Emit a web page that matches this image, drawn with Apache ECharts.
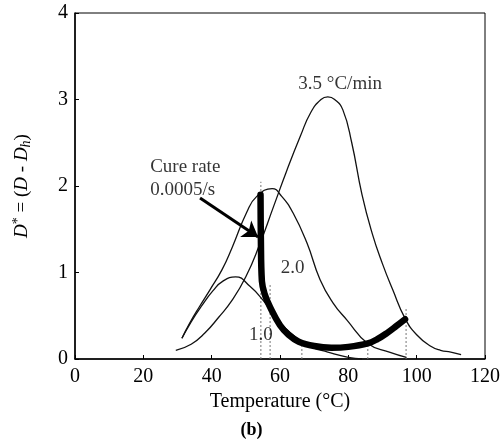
<!DOCTYPE html>
<html><head><meta charset="utf-8">
<script src="https://cdn.jsdelivr.net/npm/echarts@6/dist/echarts.min.js"></script>
<style>html,body{margin:0;padding:0;background:#fff}#c{width:503px;height:441px}</style>
</head><body><div id="c"></div>
<script>
// Heating rate curves (Temperature °C, D*)
const curve10 = [[31.3,0.24],[34,0.43],[37,0.61],[40.4,0.79],[43.3,0.9],[47,0.95],[51.2,0.84],[55,0.68],[58,0.52],[61,0.38],[65,0.24],[69,0.14],[74,0.08],[80,0.02],[84,0.0]];
const curve20 = [[31.3,0.24],[33.5,0.41],[36.5,0.61],[39.5,0.8],[43,1.03],[46,1.29],[50.3,1.7],[53.2,1.88],[57.7,1.97],[60.5,1.88],[63.8,1.69],[67.9,1.34],[71.7,0.92],[75.5,0.65],[79.6,0.45],[85.7,0.18],[92,0.08],[97,0.02]];
const curve35 = [[29.5,0.1],[34,0.17],[38,0.3],[42,0.48],[46,0.68],[50,0.95],[54,1.32],[58,1.75],[62,2.18],[66,2.58],[69,2.85],[72,3.0],[74,3.03],[76,3.0],[78.4,2.88],[81,2.5],[84,1.9],[87,1.45],[90,1.1],[93,0.8],[96.6,0.47],[100,0.28],[104,0.15],[107,0.1],[110,0.08],[113,0.05]];
// Constant cure rate path 0.0005/s
const cureRate = [[54.3,1.9],[54.4,1.4],[54.7,0.9],[55.6,0.74],[57.1,0.6],[60,0.39],[62.5,0.28],[65.5,0.2],[70,0.15],[75,0.13],[80,0.14],[85.7,0.18],[88.5,0.23],[91.3,0.3],[94,0.38],[96.6,0.46]];
// Drop lines
const dropX = [54.4, 57.1, 66.4, 85.7, 96.9];
const dropTop = [2.05, 0.88, 0.2, 0.19, 0.6];
// Annotations
const labelTexts = ['3.5 °C/min', '2.0', '1.0'];
const labelPos = [[77.6,3.18],[63.7,1.05],[54.4,0.28]];
const cureTexts = ['Cure rate', '0.0005/s'];
const curePos = [[22.0,2.22],[22.0,1.95]];
const arrowFrom = [36.6,1.86];
const arrowTo = [53.6,1.41];
const xTicks = [0,20,40,60,80,100,120];
const yTicks = [0,1,2,3,4];

const FONT = 'Liberation Serif';
const chart = echarts.init(document.getElementById('c'), null, {renderer:'canvas'});
const thin = (d) => ({type:'line', data:d, showSymbol:false, smooth:0.5, lineStyle:{color:'#111', width:1.3}, z:3, animation:false});
const series = [thin(curve10), thin(curve20), thin(curve35),
  {type:'line', data:cureRate, showSymbol:false, smooth:0.4, lineStyle:{color:'#000', width:6.5, cap:'round', join:'round'}, z:4, animation:false}];
dropX.forEach((x,i)=>{
  series.push({type:'line', data:[[x,0],[x,dropTop[i]]], showSymbol:false, lineStyle:{color:'#777', width:1, type:[2,2]}, z:2, animation:false});
});
series.push({type:'scatter', symbolSize:0, z:5, animation:false,
  data: labelTexts.map((t,i)=>({value:labelPos[i], name:t})),
  label:{show:true, position:'inside', formatter:p=>p.name, color:'#000', fontFamily:FONT, fontSize:19}});
series.push({type:'scatter', symbolSize:0, z:5, animation:false,
  data: cureTexts.map((t,i)=>({value:curePos[i], name:t})),
  label:{show:true, position:'right', distance:0, formatter:p=>p.name, color:'#000', fontFamily:FONT, fontSize:19}});
series.push({type:'lines', coordinateSystem:'cartesian2d', z:6, animation:false,
  symbol:['none','arrow'], symbolSize:15,
  lineStyle:{color:'#000', width:3, opacity:1},
  data:[{coords:[arrowFrom, arrowTo]}]});

chart.setOption({
  animation:false,
  backgroundColor:'#fff',
  grid:{left:75, right:18, top:13, bottom:82, show:true, borderColor:'#000', borderWidth:1},
  xAxis:{type:'value', min:xTicks[0], max:xTicks[xTicks.length-1], interval:20,
    name:'Temperature (°C)', nameLocation:'middle', nameGap:31,
    nameTextStyle:{fontFamily:FONT, fontSize:20, color:'#000'},
    axisLine:{lineStyle:{color:'#000', width:1.5}},
    axisTick:{inside:true, length:4, lineStyle:{color:'#000'}},
    axisLabel:{fontFamily:FONT, fontSize:20, color:'#000', margin:8},
    splitLine:{show:false}},
  yAxis:{type:'value', min:yTicks[0], max:yTicks[yTicks.length-1], interval:1,
    name:'{i|D}{sup|*}{n| = (}{i|D}{n| - }{i|D}{sub|h}{n|)}', nameLocation:'middle', nameGap:42, nameRotate:90,
    nameTextStyle:{fontFamily:FONT, fontSize:19, color:'#000',
      rich:{i:{fontFamily:FONT, fontStyle:'italic', fontSize:19, color:'#000'},
            n:{fontFamily:FONT, fontSize:19, color:'#000'},
            sup:{fontFamily:FONT, fontSize:14, color:'#000', padding:[0,0,8,0]},
            sub:{fontFamily:FONT, fontStyle:'italic', fontSize:14, color:'#000', padding:[8,0,0,0]}}},
    axisLine:{lineStyle:{color:'#000', width:1.5}},
    axisTick:{inside:true, length:4, lineStyle:{color:'#000'}},
    axisLabel:{fontFamily:FONT, fontSize:20, color:'#000', margin:7},
    splitLine:{show:false}},
  graphic:[{type:'text', left:'center', top:421, style:{text:'(b)', fontFamily:FONT, fontWeight:'bold', fontSize:18, fill:'#000'}}],
  series: series
});
</script></body></html>
